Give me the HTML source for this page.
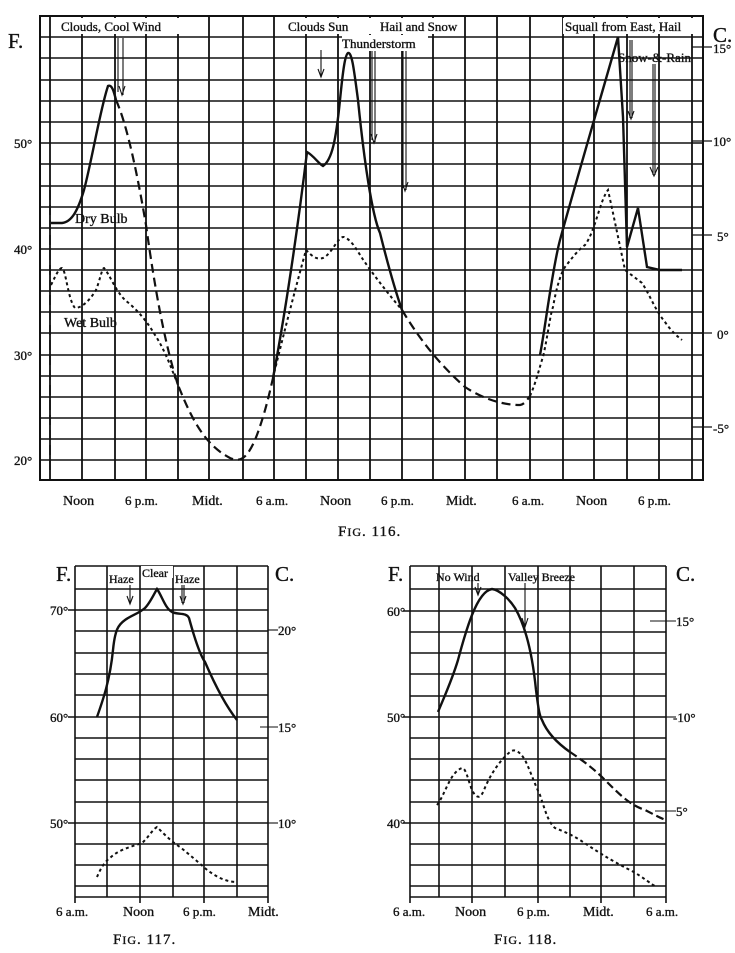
<!DOCTYPE html>
<html><head><meta charset="utf-8"><style>
html,body{margin:0;padding:0;background:#fff;}
svg{display:block;font-family:"Liberation Serif",serif;}
</style></head><body>
<svg width="735" height="953" viewBox="0 0 735 953" xmlns="http://www.w3.org/2000/svg">
<g stroke="#111" fill="none">
<rect x="40" y="16" width="663" height="464" stroke-width="2"/>
<g stroke-width="1.8">
<line x1="50" y1="16" x2="50" y2="480"/><line x1="82" y1="16" x2="82" y2="480"/>
<line x1="115" y1="16" x2="115" y2="480"/><line x1="146" y1="16" x2="146" y2="480"/>
<line x1="178" y1="16" x2="178" y2="480"/><line x1="209" y1="16" x2="209" y2="480"/>
<line x1="243" y1="16" x2="243" y2="480"/><line x1="274" y1="16" x2="274" y2="480"/>
<line x1="306" y1="16" x2="306" y2="480"/><line x1="338" y1="16" x2="338" y2="480"/>
<line x1="370" y1="16" x2="370" y2="480"/><line x1="402" y1="16" x2="402" y2="480"/>
<line x1="433" y1="16" x2="433" y2="480"/><line x1="465" y1="16" x2="465" y2="480"/>
<line x1="497" y1="16" x2="497" y2="480"/><line x1="530" y1="16" x2="530" y2="480"/>
<line x1="563" y1="16" x2="563" y2="480"/><line x1="594" y1="16" x2="594" y2="480"/>
<line x1="627" y1="16" x2="627" y2="480"/><line x1="659" y1="16" x2="659" y2="480"/>
<line x1="692" y1="16" x2="692" y2="480"/>
</g>
<g stroke-width="1.6">
<line x1="40" y1="37" x2="703" y2="37"/><line x1="40" y1="58" x2="703" y2="58"/>
<line x1="40" y1="80" x2="703" y2="80"/><line x1="40" y1="101" x2="703" y2="101"/>
<line x1="40" y1="122" x2="703" y2="122"/><line x1="40" y1="143" x2="703" y2="143"/>
<line x1="40" y1="164" x2="703" y2="164"/><line x1="40" y1="186" x2="703" y2="186"/>
<line x1="40" y1="207" x2="703" y2="207"/><line x1="40" y1="228" x2="703" y2="228"/>
<line x1="40" y1="249" x2="703" y2="249"/><line x1="40" y1="270" x2="703" y2="270"/>
<line x1="40" y1="291" x2="703" y2="291"/><line x1="40" y1="312" x2="703" y2="312"/>
<line x1="40" y1="333" x2="703" y2="333"/><line x1="40" y1="355" x2="703" y2="355"/>
<line x1="40" y1="376" x2="703" y2="376"/><line x1="40" y1="397" x2="703" y2="397"/>
<line x1="40" y1="418" x2="703" y2="418"/><line x1="40" y1="439" x2="703" y2="439"/>
<line x1="40" y1="460" x2="703" y2="460"/>
</g>
<g stroke-width="1.2">
<line x1="692" y1="47" x2="712" y2="47"/><line x1="692" y1="141" x2="712" y2="141"/>
<line x1="692" y1="235" x2="712" y2="235"/><line x1="692" y1="333" x2="712" y2="333"/>
<line x1="692" y1="427" x2="712" y2="427"/>
</g>
<path d="M50,190 L50,475" stroke-width="1.6" stroke-dasharray="10,5"/>
<path d="M51,223 L62,223 C72,222 78,210 84,190 C92,160 100,110 108,86 C112,84 114,92 116,100" stroke-width="2.4"/>
<path d="M116,100 C125,120 135,160 146,225 C155,290 165,345 178,385 C192,420 205,445 230,458 C240,462 246,460 255,440 C263,420 268,400 273,378" stroke-width="2.2" stroke-dasharray="9,5"/>
<path d="M273,378 C282,330 295,250 307,152 C314,156 318,163 323,166 C332,160 336,140 340,100 C343,70 345,55 348,53 C352,52 354,70 358,100 C364,160 372,215 380,233 C388,265 395,290 402,310" stroke-width="2.4"/>
<path d="M402,310 C420,340 440,365 465,387 C480,397 500,405 520,405 C525,404 527,400 530,396" stroke-width="2.2" stroke-dasharray="9,5"/>
<path d="M540,355 C545,330 552,270 560,240 C575,185 600,100 618,37 L623,117 L627,247 L638,208 L647,267 L660,270 L682,270" stroke-width="2.4"/>
<path d="M51,285 C56,275 59,268 62,268 C66,270 68,300 75,308 C82,308 90,300 96,290 C100,280 102,268 104,268 C110,275 115,290 125,300 C135,308 145,318 155,335 C165,350 172,370 178,385" stroke-width="2" stroke-dasharray="3,3"/>
<path d="M273,378 C282,340 295,290 306,250 C312,256 316,260 323,258 C332,254 338,236 344,237 C352,240 358,252 362,258 C370,270 385,290 402,310" stroke-width="2" stroke-dasharray="3,3"/>
<path d="M530,396 C537,380 540,365 543,357 C548,335 550,315 553,307 C556,290 560,275 565,267 C572,258 578,250 585,245 C595,232 600,200 608,190 L613,213 L625,270 L642,283 C650,295 655,310 665,322 C672,332 677,336 682,340" stroke-width="2" stroke-dasharray="3,3"/>
<g stroke-width="1.1">
<line x1="118" y1="38" x2="118" y2="92"/><line x1="123" y1="38" x2="123" y2="95"/><path d="M119,86 L122,95 L125,86"/>
<line x1="321" y1="50" x2="321" y2="77"/><path d="M318,69 L321,77 L324,69"/>
<line x1="372" y1="44" x2="372" y2="140"/><line x1="375" y1="44" x2="375" y2="142"/><path d="M371,134 L374,143 L377,134"/>
<line x1="403" y1="44" x2="403" y2="188"/><line x1="406" y1="44" x2="406" y2="190"/><path d="M402,182 L405,191 L408,182"/>
<line x1="630" y1="40" x2="630" y2="118"/><line x1="632" y1="40" x2="632" y2="118"/><path d="M628,111 L631,119 L634,111"/>
<line x1="653" y1="64" x2="653" y2="175"/><line x1="655" y1="64" x2="655" y2="175"/><path d="M650,167 L654,176 L658,167"/>
</g>

<g stroke-width="1.6">
<line x1="75" y1="566" x2="75" y2="903"/><line x1="107" y1="566" x2="107" y2="897"/>
<line x1="140" y1="566" x2="140" y2="903"/><line x1="173" y1="566" x2="173" y2="897"/>
<line x1="204" y1="566" x2="204" y2="903"/><line x1="237" y1="566" x2="237" y2="897"/>
<line x1="268" y1="566" x2="268" y2="903"/>
<line x1="75" y1="566" x2="268" y2="566"/><line x1="75" y1="897" x2="268" y2="897"/>
<line x1="75" y1="589" x2="268" y2="589"/><line x1="68" y1="610" x2="268" y2="610"/>
<line x1="75" y1="631" x2="268" y2="631"/><line x1="75" y1="653" x2="268" y2="653"/>
<line x1="75" y1="674" x2="268" y2="674"/><line x1="75" y1="695" x2="268" y2="695"/>
<line x1="68" y1="717" x2="268" y2="717"/><line x1="75" y1="738" x2="268" y2="738"/>
<line x1="75" y1="759" x2="268" y2="759"/><line x1="75" y1="780" x2="268" y2="780"/>
<line x1="75" y1="802" x2="268" y2="802"/><line x1="68" y1="823" x2="268" y2="823"/>
<line x1="75" y1="844" x2="268" y2="844"/><line x1="75" y1="865" x2="268" y2="865"/>
<line x1="75" y1="886" x2="268" y2="886"/>
</g>
<g stroke-width="1.1"><line x1="268" y1="630" x2="278" y2="630"/><line x1="260" y1="727" x2="278" y2="727"/><line x1="268" y1="823" x2="278" y2="823"/></g>
<path d="M97,717 C103,700 110,680 113,650 C115,630 118,625 125,620 C132,615 138,614 145,608 C150,603 154,594 157,589 C162,596 165,608 172,612 C178,615 186,612 189,618 C195,640 200,655 205,662 C215,685 225,705 237,720" stroke-width="2.4"/>
<path d="M97,877 C100,870 104,862 110,858 C118,850 130,847 142,843 C148,838 152,830 157,827 C165,835 172,842 180,847 C190,855 198,862 206,869 C215,876 225,882 237,882" stroke-width="2" stroke-dasharray="3,3"/>
<g stroke-width="1.1"><line x1="130" y1="585" x2="130" y2="603"/><path d="M127,596 L130,604 L133,596"/>
<line x1="182" y1="585" x2="182" y2="603"/><line x1="184" y1="585" x2="184" y2="603"/><path d="M180,596 L183,604 L186,596"/></g>

<g stroke-width="1.6">
<line x1="410" y1="566" x2="410" y2="903"/><line x1="439" y1="566" x2="439" y2="897"/>
<line x1="472" y1="566" x2="472" y2="903"/><line x1="505" y1="566" x2="505" y2="897"/>
<line x1="538" y1="566" x2="538" y2="903"/><line x1="570" y1="566" x2="570" y2="897"/>
<line x1="601" y1="566" x2="601" y2="903"/><line x1="634" y1="566" x2="634" y2="897"/>
<line x1="666" y1="566" x2="666" y2="903"/>
<line x1="410" y1="566" x2="666" y2="566"/><line x1="410" y1="897" x2="666" y2="897"/>
<line x1="410" y1="589" x2="666" y2="589"/><line x1="403" y1="611" x2="666" y2="611"/>
<line x1="410" y1="632" x2="666" y2="632"/><line x1="410" y1="653" x2="666" y2="653"/>
<line x1="410" y1="674" x2="666" y2="674"/><line x1="410" y1="696" x2="666" y2="696"/>
<line x1="403" y1="717" x2="666" y2="717"/><line x1="410" y1="738" x2="666" y2="738"/>
<line x1="410" y1="759" x2="666" y2="759"/><line x1="410" y1="780" x2="666" y2="780"/>
<line x1="410" y1="802" x2="666" y2="802"/><line x1="403" y1="823" x2="666" y2="823"/>
<line x1="410" y1="844" x2="666" y2="844"/><line x1="410" y1="865" x2="666" y2="865"/>
<line x1="410" y1="886" x2="666" y2="886"/>
</g>
<g stroke-width="1.1"><line x1="650" y1="621" x2="676" y2="621"/><line x1="666" y1="717" x2="676" y2="717"/><line x1="655" y1="811" x2="676" y2="811"/></g>
<path d="M438,712 C445,695 452,680 458,660 C462,645 466,630 472,615 C478,600 485,590 492,589 C500,590 510,600 515,608 C525,625 532,650 536,690 C538,705 539,715 542,720 C548,735 560,745 570,752" stroke-width="2.4"/>
<path d="M570,752 C585,762 595,770 605,780 C620,795 630,805 645,810 C655,815 660,818 666,820" stroke-width="2.2" stroke-dasharray="8,4"/>
<path d="M437,805 C445,795 450,772 462,768 C466,768 468,780 472,790 C476,798 480,800 484,790 C490,775 500,760 510,752 C515,748 520,752 525,760 C530,770 535,785 540,795 C545,810 548,822 555,828 C565,832 570,834 580,840 C595,850 610,860 630,870 C645,878 650,884 657,887" stroke-width="2" stroke-dasharray="3,3"/>
<g stroke-width="1.1"><line x1="478" y1="583" x2="478" y2="594"/><path d="M475,587 L478,595 L481,587"/>
<line x1="525" y1="583" x2="525" y2="626"/><path d="M522,618 L525,627 L528,618"/></g>
</g>

<g fill="#111" stroke="#111" stroke-width="0.35" font-size="13">
<text x="8" y="48" font-size="21">F.</text>
<text x="713" y="42" font-size="21">C.</text>
<text x="14" y="148">50°</text><text x="14" y="254">40°</text>
<text x="14" y="360">30°</text><text x="14" y="465">20°</text>
<text x="713" y="53">15°</text><text x="713" y="146">10°</text>
<text x="717" y="241">5°</text><text x="717" y="339">0°</text>
<text x="713" y="433">-5°</text>
<rect x="60" y="18" width="125" height="16" fill="#fff" stroke="none"/>
<text x="61" y="31">Clouds, Cool Wind</text>
<rect x="286" y="18" width="160" height="16" fill="#fff" stroke="none"/>
<text x="288" y="31">Clouds Sun</text>
<text x="380" y="31">Hail and Snow</text>
<rect x="342" y="35" width="86" height="16" fill="#fff" stroke="none"/>
<text x="342" y="48">Thunderstorm</text>
<rect x="563" y="18" width="138" height="16" fill="#fff" stroke="none"/>
<text x="565" y="31">Squall from East, Hail</text>
<text x="618" y="62">Snow-&amp;-Rain</text>
<text x="75" y="223" font-size="14">Dry Bulb</text>
<text x="64" y="327" font-size="14">Wet Bulb</text>
<text x="63" y="505" font-size="14">Noon</text>
<text x="125" y="505">6 p.m.</text>
<text x="192" y="505" font-size="14">Midt.</text>
<text x="256" y="505">6 a.m.</text>
<text x="320" y="505" font-size="14">Noon</text>
<text x="381" y="505">6 p.m.</text>
<text x="446" y="505" font-size="14">Midt.</text>
<text x="512" y="505">6 a.m.</text>
<text x="576" y="505" font-size="14">Noon</text>
<text x="638" y="505">6 p.m.</text>
<text x="338" y="536" font-size="15" letter-spacing="1">F<tspan font-size="12">IG</tspan>. 116.</text>

<text x="56" y="581" font-size="21">F.</text>
<text x="275" y="581" font-size="21">C.</text>
<text x="50" y="615">70°</text><text x="50" y="722">60°</text><text x="50" y="828">50°</text>
<text x="278" y="635">20°</text><text x="278" y="732">15°</text><text x="278" y="828">10°</text>
<text x="109" y="583" font-size="12">Haze</text>
<rect x="141" y="566" width="32" height="12" fill="#fff" stroke="none"/>
<text x="142" y="577" font-size="12">Clear</text>
<text x="175" y="583" font-size="12">Haze</text>
<text x="56" y="916">6 a.m.</text>
<text x="123" y="916" font-size="14">Noon</text>
<text x="183" y="916">6 p.m.</text>
<text x="248" y="916" font-size="14">Midt.</text>
<text x="113" y="944" font-size="15" letter-spacing="1">F<tspan font-size="12">IG</tspan>. 117.</text>

<text x="388" y="581" font-size="21">F.</text>
<text x="676" y="581" font-size="21">C.</text>
<text x="387" y="616">60°</text><text x="387" y="722">50°</text><text x="387" y="828">40°</text>
<text x="676" y="626">15°</text><text x="673" y="722">-10°</text><text x="676" y="816">5°</text>
<text x="436" y="581" font-size="12">No Wind</text>
<text x="508" y="581" font-size="12">Valley Breeze</text>
<text x="393" y="916">6 a.m.</text>
<text x="455" y="916" font-size="14">Noon</text>
<text x="517" y="916">6 p.m.</text>
<text x="583" y="916" font-size="14">Midt.</text>
<text x="646" y="916">6 a.m.</text>
<text x="494" y="944" font-size="15" letter-spacing="1">F<tspan font-size="12">IG</tspan>. 118.</text>
</g>
</svg>
</body></html>
